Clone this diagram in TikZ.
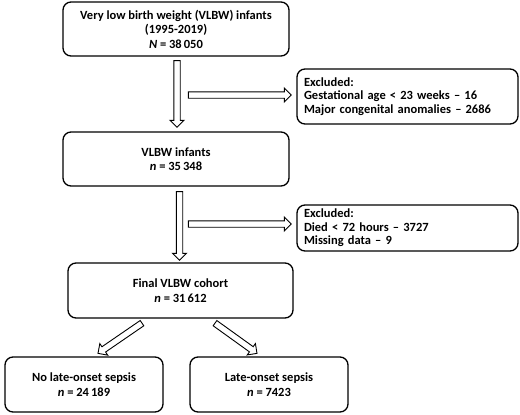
\documentclass[tikz,border=0pt]{standalone}
\usepackage{fontspec}
\setmainfont{Carlito}
\usetikzlibrary{calc}
\newcommand\harrow[2]{%
  \path (#1) coordinate (ha) (#2) coordinate (hb) ($(hb)!7pt!(ha)$) coordinate (hh);
  \draw[hollowarrow] ($(ha)!3.2pt!90:(hb)$) -- ($(hh)!3.2pt!90:(hb)$) -- ($(hh)!7pt!90:(hb)$) -- (hb)
    -- ($(hh)!7pt!-90:(hb)$) -- ($(hh)!3.2pt!-90:(hb)$) -- ($(ha)!3.2pt!-90:(hb)$) -- cycle;}
\tikzset{
  box/.style={draw, line width=1.3pt, rounded corners=8pt, inner sep=0pt, align=center,
    font=\fontsize{12.5}{14.5}\selectfont\bfseries},
  exbox/.style={box, align=left, text width=207pt, font=\fontsize{12.5}{13.5}\selectfont\bfseries},
  hollowarrow/.style={draw, line width=0.9pt, fill=white, line join=miter},
}
\begin{document}
\begin{tikzpicture}[x=1pt, y=-1pt]
\useasboundingbox (0,0) rectangle (520,415);
\node[box, minimum width=226pt, minimum height=54pt] (b1) at (176,29)
  {Very low birth weight (VLBW) infants\\(1995-2019)\\\textit{N} = 38\,050};
\node[exbox, minimum width=221pt, minimum height=55pt] (e1) at (407.5,96.5)
  {Excluded:\\Gestational age < 23 weeks -- 16\\Major congenital anomalies -- 2686};
\node[box, minimum width=226pt, minimum height=54pt] (b2) at (176,159)
  {VLBW infants\\\textit{n} = 35\,348};
\node[exbox, minimum width=221pt, minimum height=46pt] (e2) at (407.5,228)
  {Excluded:\\Died < 72 hours -- 3727\\Missing data -- 9};
\node[box, minimum width=225pt, minimum height=55pt] (b3) at (180.5,290.5)
  {Final VLBW cohort\\\textit{n} = 31\,612};
\node[box, minimum width=158pt, minimum height=55pt] (b4) at (84,384.5)
  {No late-onset sepsis\\\textit{n} = 24\,189};
\node[box, minimum width=158pt, minimum height=55pt] (b5) at (269,384.5)
  {Late-onset sepsis\\\textit{n} = 7423};
% connector end points
\coordinate (v1s) at ([xshift=1pt,yshift=-4pt]b1.south);
\coordinate (v1e) at ([xshift=1pt,yshift=4pt]b2.north);
\coordinate (h1e) at ([xshift=-5pt,yshift=1.5pt]e1.west);
\coordinate (h1s) at ([xshift=-108pt,yshift=1.5pt]e1.west);
\coordinate (v2s) at ([xshift=3.5pt,yshift=-5pt]b2.south);
\coordinate (v2e) at ([xshift=-1pt,yshift=2pt]b3.north);
\coordinate (h2e) at ([xshift=-5pt,yshift=4pt]e2.west);
\coordinate (h2s) at ([xshift=-108pt,yshift=4pt]e2.west);
\coordinate (d1s) at ([xshift=-38.5pt,yshift=-4.5pt]b3.south);
\coordinate (d1e) at ([xshift=14pt,yshift=3pt]b4.north);
\coordinate (d2s) at ([xshift=34.5pt,yshift=-4.5pt]b3.south);
\coordinate (d2e) at ([xshift=-12pt,yshift=3pt]b5.north);
\harrow{v1s}{v1e}
\harrow{h1s}{h1e}
\harrow{v2s}{v2e}
\harrow{h2s}{h2e}
\harrow{d1s}{d1e}
\harrow{d2s}{d2e}
\end{tikzpicture}
\end{document}
